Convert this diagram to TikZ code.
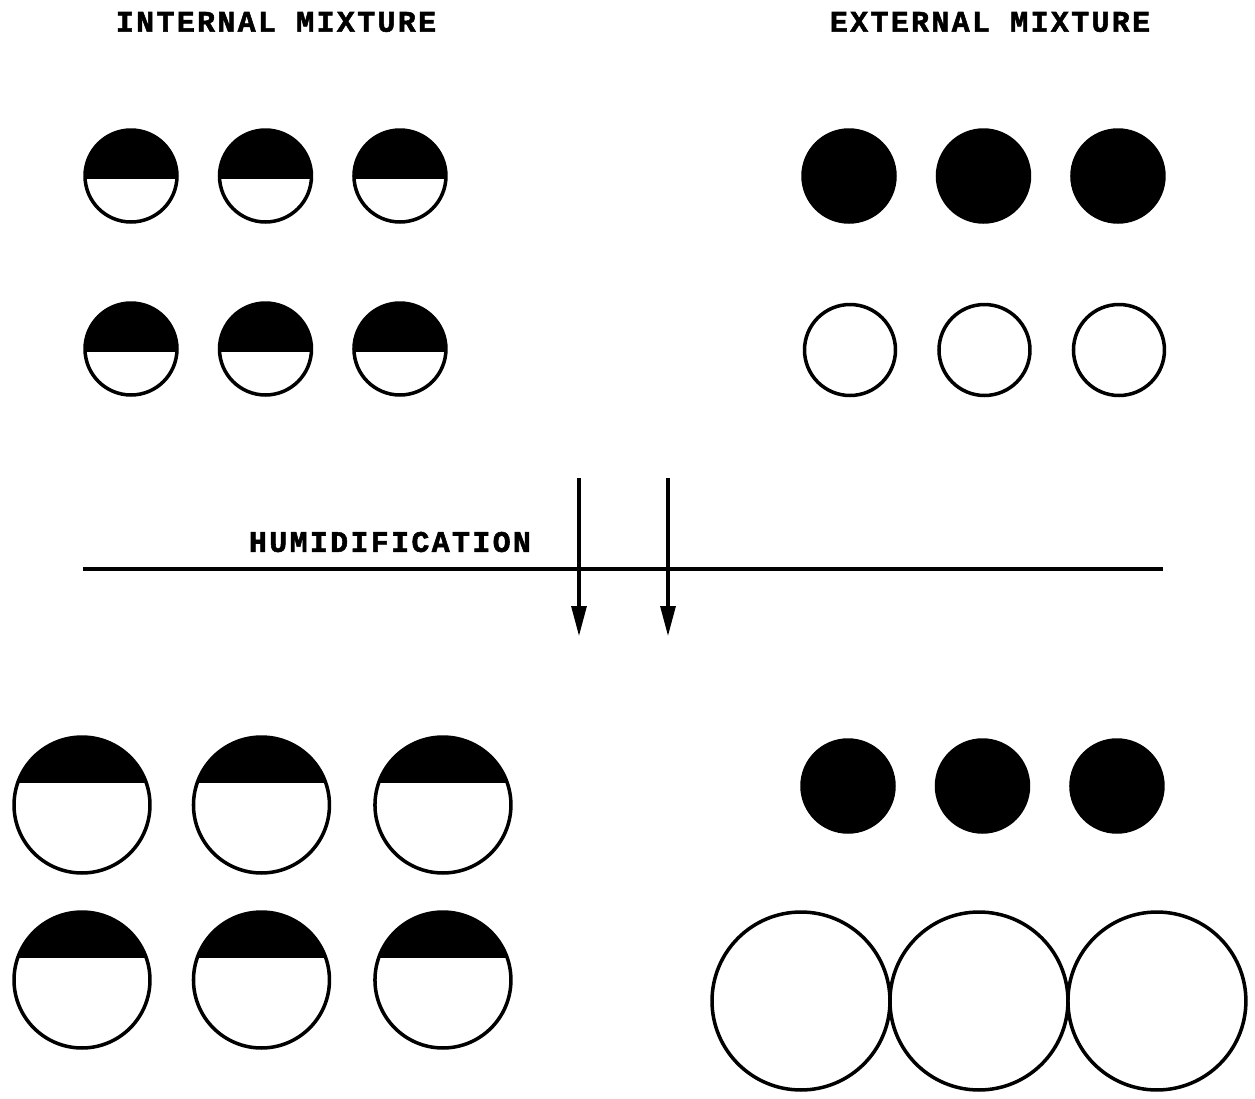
\documentclass[tikz,border=0pt]{standalone}
\usepackage{fontspec}
\newfontfamily\typefont[LetterSpace=8, BoldFeatures={FakeBold=1.8}]{Liberation Mono}
\usetikzlibrary{positioning, arrows.meta}

\begin{document}
\begin{tikzpicture}[
    x=0.02cm, y=-0.02cm,
    title/.style={
        font=\typefont\bfseries\fontsize{17}{19}\selectfont,
        inner sep=0pt
    },
    halfball/.style={
        circle,
        draw,
        line width=2pt,
        inner sep=0pt,
        minimum size=1.84cm,
        path picture={\fill (path picture bounding box.north west) rectangle ([yshift=-0.06cm]path picture bounding box.east);}
    },
    bighalfball/.style={
        circle,
        draw,
        line width=2pt,
        inner sep=0pt,
        minimum size=2.72cm,
        path picture={\fill (path picture bounding box.north west) rectangle ([yshift=0.45cm]path picture bounding box.east);}
    },
    soot/.style={
        circle,
        draw,
        fill=black,
        line width=2pt,
        inner sep=0pt,
        minimum size=1.84cm
    },
    drop/.style={
        circle,
        draw,
        line width=2pt,
        inner sep=0pt,
        minimum size=1.82cm
    },
    bigdrop/.style={
        circle,
        draw,
        line width=2pt,
        inner sep=0pt,
        outer sep=0pt,
        minimum size=3.56cm
    },
    humline/.style={
        line width=1.8pt
    },
    humarrow/.style={
        -{Triangle[length=0.6cm, width=0.3cm]},
        line width=1.8pt
    }
]
    \useasboundingbox (0,0) rectangle (1255,1099);

    % Titles
    \node[title] (intitle) at (276,22) {INTERNAL MIXTURE};
    \node[title] (extitle) at (990,22) {EXTERNAL MIXTURE};

    % Internal mixture, dry
    \node[halfball] (inA) at (131,176) {};
    \node[halfball, right=0.78cm of inA] (inB) {};
    \node[halfball, right=0.78cm of inB] (inC) {};
    \node[halfball] (inD) at (131,349) {};
    \node[halfball, right=0.78cm of inD] (inE) {};
    \node[halfball, right=0.78cm of inE] (inF) {};

    % External mixture, dry
    \node[soot] (exA) at (849,176) {};
    \node[soot, right=0.78cm of exA] (exB) {};
    \node[soot, right=0.78cm of exB] (exC) {};
    \node[drop] (exD) at (850,350) {};
    \node[drop, right=0.8cm of exD] (exE) {};
    \node[drop, right=0.8cm of exE] (exF) {};

    % Humidification
    \node[title] (humtitle) at (390,542) {HUMIDIFICATION};
    \coordinate (lineL) at (83,569);
    \coordinate (lineR) at (1163,569);
    \draw[humline] (lineL) -- (lineR);
    \coordinate (arrAtop) at (579,478);
    \coordinate (arrAtip) at (579,636);
    \coordinate (arrBtop) at (668,478);
    \coordinate (arrBtip) at (668,636);
    \draw[humarrow] (arrAtop) -- (arrAtip);
    \draw[humarrow] (arrBtop) -- (arrBtip);

    % Internal mixture, humid
    \node[bighalfball] (wetA) at (82,805) {};
    \node[bighalfball, right=0.8cm of wetA] (wetB) {};
    \node[bighalfball, right=0.84cm of wetB] (wetC) {};
    \node[bighalfball] (wetD) at (82,980) {};
    \node[bighalfball, right=0.8cm of wetD] (wetE) {};
    \node[bighalfball, right=0.84cm of wetE] (wetF) {};

    % External mixture, humid
    \node[soot] (wexA) at (848,786) {};
    \node[soot, right=0.78cm of wexA] (wexB) {};
    \node[soot, right=0.78cm of wexB] (wexC) {};
    \node[bigdrop] (wexD) at (801,1001) {};
    \node[bigdrop, right=0cm of wexD] (wexE) {};
    \node[bigdrop, right=0cm of wexE] (wexF) {};

\end{tikzpicture}
\end{document}
